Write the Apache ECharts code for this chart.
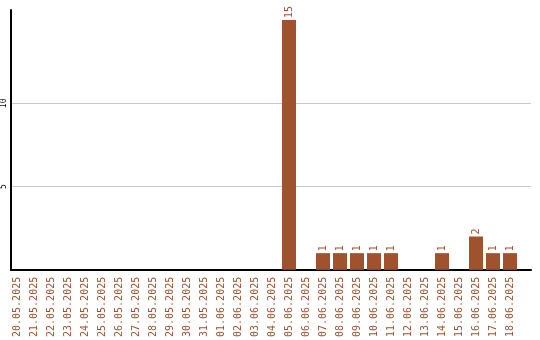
<!DOCTYPE html>
<html>
<head>
<meta charset="utf-8">
<script src="https://cdn.jsdelivr.net/npm/echarts@6/dist/echarts.min.js"></script>
<style>
  html, body { margin: 0; padding: 0; background: #fff; }
  #main { width: 540px; height: 340px; }
</style>
</head>
<body>
<div id="main"></div>
<script>
// 日期和数量
var days = ['20.05.2025', '21.05.2025', '22.05.2025', '23.05.2025', '24.05.2025', '25.05.2025',
  '26.05.2025', '27.05.2025', '28.05.2025', '29.05.2025', '30.05.2025', '31.05.2025',
  '01.06.2025', '02.06.2025', '03.06.2025', '04.06.2025', '05.06.2025', '06.06.2025',
  '07.06.2025', '08.06.2025', '09.06.2025', '10.06.2025', '11.06.2025', '12.06.2025',
  '13.06.2025', '14.06.2025', '15.06.2025', '16.06.2025', '17.06.2025', '18.06.2025'];
var counts = [0, 0, 0, 0, 0, 0, 0, 0, 0, 0, 0, 0, 0, 0, 0, 0, 15, 0, 1, 1, 1, 1, 1, 0, 0, 1, 0, 2, 1, 1];
var yTicks = [5, 10];

var brown = '#a0522d';
var mono = 'DejaVu Sans Mono';
var yMax = 15.6;

var myChart = echarts.init(document.getElementById('main'));

var option = {
    animation: false,
    grid: [
        { left: 8.5, right: 21.5, top: 10, bottom: 70 },
        { left: 10, right: 9, top: 10, bottom: 70 }
    ],
    xAxis: [
        {
            type: 'category',
            gridIndex: 0,
            data: days,
            axisLine: { show: false },
            axisTick: { show: false },
            axisLabel: {
                rotate: 90,
                interval: 0,
                margin: 7,
                color: brown,
                fontFamily: mono,
                fontSize: 10
            }
        },
        {
            type: 'category',
            gridIndex: 1,
            data: [''],
            axisLine: { lineStyle: { color: '#000', width: 2 } },
            axisTick: { show: false },
            axisLabel: { show: false }
        }
    ],
    yAxis: [
        {
            type: 'value',
            gridIndex: 0,
            min: 0,
            max: yMax,
            show: false
        },
        {
            type: 'value',
            gridIndex: 1,
            min: 0,
            max: yMax,
            interval: 5,
            axisLine: { show: true, lineStyle: { color: '#000', width: 2 } },
            axisTick: { show: false },
            axisLabel: {
                rotate: 90,
                margin: 3,
                color: '#000',
                fontFamily: mono,
                fontSize: 8,
                formatter: function (v) { return yTicks.indexOf(v) >= 0 ? String(v) : ''; }
            },
            splitLine: {
                lineStyle: { color: ['rgba(0,0,0,0)', '#c8c8c8', '#c8c8c8', 'rgba(0,0,0,0)', 'rgba(0,0,0,0)'] }
            }
        }
    ],
    series: [
        {
            type: 'bar',
            xAxisIndex: 0,
            yAxisIndex: 0,
            data: counts,
            barWidth: 14,
            itemStyle: { color: brown },
            label: {
                show: true,
                position: 'top',
                rotate: 90,
                align: 'left',
                verticalAlign: 'middle',
                distance: 2,
                color: brown,
                fontFamily: mono,
                fontSize: 10,
                formatter: function (p) { return p.value ? String(p.value) : ''; }
            }
        }
    ]
};

myChart.setOption(option);
</script>
</body>
</html>
